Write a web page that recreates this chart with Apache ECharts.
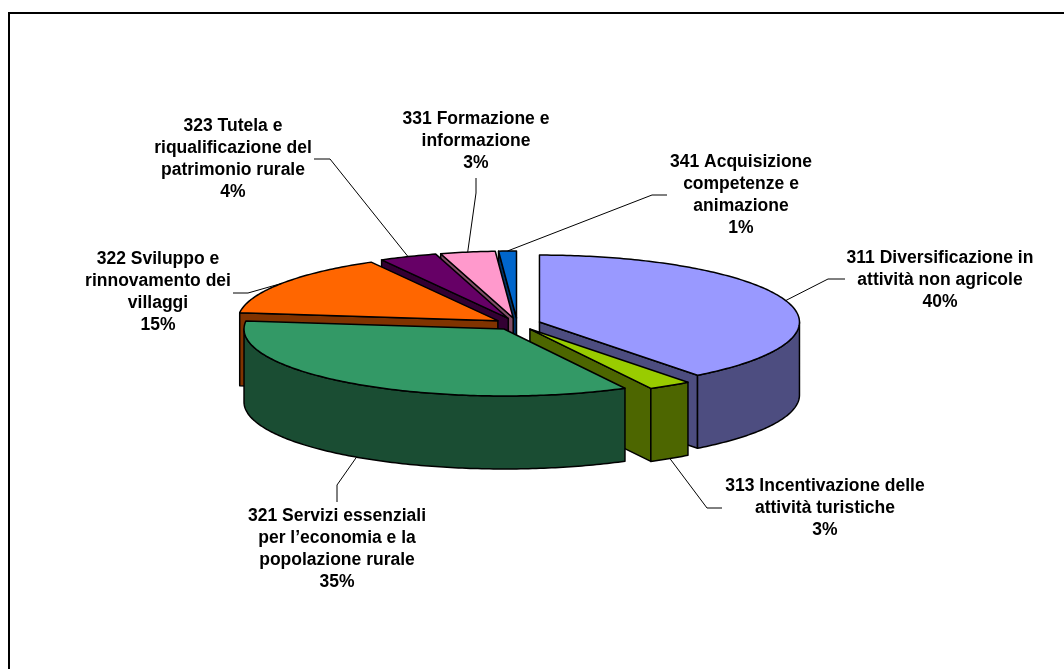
<!DOCTYPE html>
<html>
<head>
<meta charset="utf-8">
<style>html,body{margin:0;padding:0;background:#fff}#c{width:1064px;height:669px}</style>
<script src="https://cdn.jsdelivr.net/npm/echarts@6/dist/echarts.min.js"></script>
</head>
<body>
<div id="c"></div>
<script>
// Data, clockwise from twelve o'clock
const names = [
  "311 Diversificazione in\nattività non agricole",
  "313 Incentivazione delle\nattività turistiche",
  "321 Servizi essenziali\nper l’economia e la\npopolazione rurale",
  "322 Sviluppo e\nrinnovamento dei\nvillaggi",
  "323 Tutela e\nriqualificazione del\npatrimonio rurale",
  "331 Formazione e\ninformazione",
  "341 Acquisizione\ncompetenze e\nanimazione"
];
const shares = [39.6, 2.7, 34.6, 15.0, 3.6, 3.4, 1.1];

// Styles
const topColors  = ["#9999FF", "#99CC00", "#339966", "#FF6600", "#660066", "#FF99CC", "#0066CC"];
const wallColors = ["#4D4D80", "#4D6600", "#1A4D33", "#803300", "#330033", "#804D66", "#003366"];

// Layout
const drawOrder = [6, 5, 4, 3, 0, 1, 2];
const pie = { cx: 517.3, cy: 324, rx: 260, ry: 67, depth: 73, explode: 0.09 };
const labelCenters = [[940, 280], [825, 508], [337, 549], [158, 292], [233, 159], [476, 141.5], [741, 195]];
const leaderElbows = [
  [[845, 279], [828, 279]],
  [[722, 508], [707, 508]],
  [[337, 502], [337, 485]],
  [[233, 293], [248, 293]],
  [[314, 159], [330, 159]],
  [[476, 178], [476, 193]],
  [[667, 195], [652, 195]]
];
const labelFont = 'bold 17.5px "Liberation Sans", Arial, sans-serif';

const total = shares.reduce((a, b) => a + b, 0);
const starts = [];
shares.reduce((acc, v, i) => { starts[i] = acc; return acc + v; }, 0);
const rad = v => v / total * Math.PI * 2;

function renderSlice(params, api) {
  const idx = api.value(1);
  const a0 = rad(starts[idx]);
  const a1 = rad(starts[idx] + api.value(0));
  const mid = (a0 + a1) / 2;
  const ox = pie.cx + pie.explode * pie.rx * Math.sin(mid);
  const oy = pie.cy - pie.explode * pie.ry * Math.cos(mid);
  const rim = a => [ox + pie.rx * Math.sin(a), oy - pie.ry * Math.cos(a)];
  const down = p => [p[0], p[1] + pie.depth];
  const arc = (s, e) => {
    const n = Math.max(2, Math.ceil((e - s) / 0.015));
    const pts = [];
    for (let i = 0; i <= n; i++) pts.push(rim(s + (e - s) * i / n));
    return pts;
  };
  const apex = [ox, oy];
  const stroke = { stroke: "#000", lineWidth: 1.5, lineJoin: "round" };
  const poly = (points, fill) => ({ type: "polygon", silent: true, shape: { points }, style: Object.assign({ fill }, stroke) });
  const children = [];
  const wall = wallColors[idx];
  const radialWall = a => poly([apex, rim(a), down(rim(a)), down(apex)], wall);
  if (Math.sin(a0) < -1e-6) children.push(radialWall(a0));
  if (Math.sin(a1) > 1e-6) children.push(radialWall(a1));
  const fs = Math.max(a0, Math.PI / 2), fe = Math.min(a1, Math.PI * 1.5);
  if (fe > fs) {
    const upper = arc(fs, fe);
    children.push(poly(upper.concat(upper.map(down).reverse()), wall));
  }
  children.push(poly([apex].concat(arc(a0, a1)), topColors[idx]));

  // leader line: from the label elbow to the rim at the slice's bisector
  const tip = Math.cos(mid) < 0 ? down(rim(mid)) : rim(mid);
  children.push({
    type: "polyline", silent: true,
    shape: { points: leaderElbows[idx].concat([tip]) },
    style: { stroke: "#000", lineWidth: 1, fill: null }
  });
  const c = labelCenters[idx];
  children.push({
    type: "text", silent: true,
    style: {
      text: names[idx] + "\n" + Math.round(api.value(0) / total * 100) + "%",
      x: c[0], y: c[1], align: "center", verticalAlign: "middle",
      font: labelFont, lineHeight: 22, fill: "#000"
    }
  });
  return { type: "group", children };
}

const chart = echarts.init(document.getElementById("c"), null, { renderer: "canvas" });
chart.setOption({
  backgroundColor: "#fff",
  animation: false,
  graphic: [{
    type: "polyline", silent: true,
    shape: { points: [[9, 669], [9, 13], [1064, 13]] },
    style: { stroke: "#000", lineWidth: 2, fill: null }
  }],
  series: [{
    type: "custom",
    coordinateSystem: "none",
    silent: true,
    renderItem: renderSlice,
    data: drawOrder.map(i => [shares[i], i])
  }]
});
</script>
</body>
</html>
